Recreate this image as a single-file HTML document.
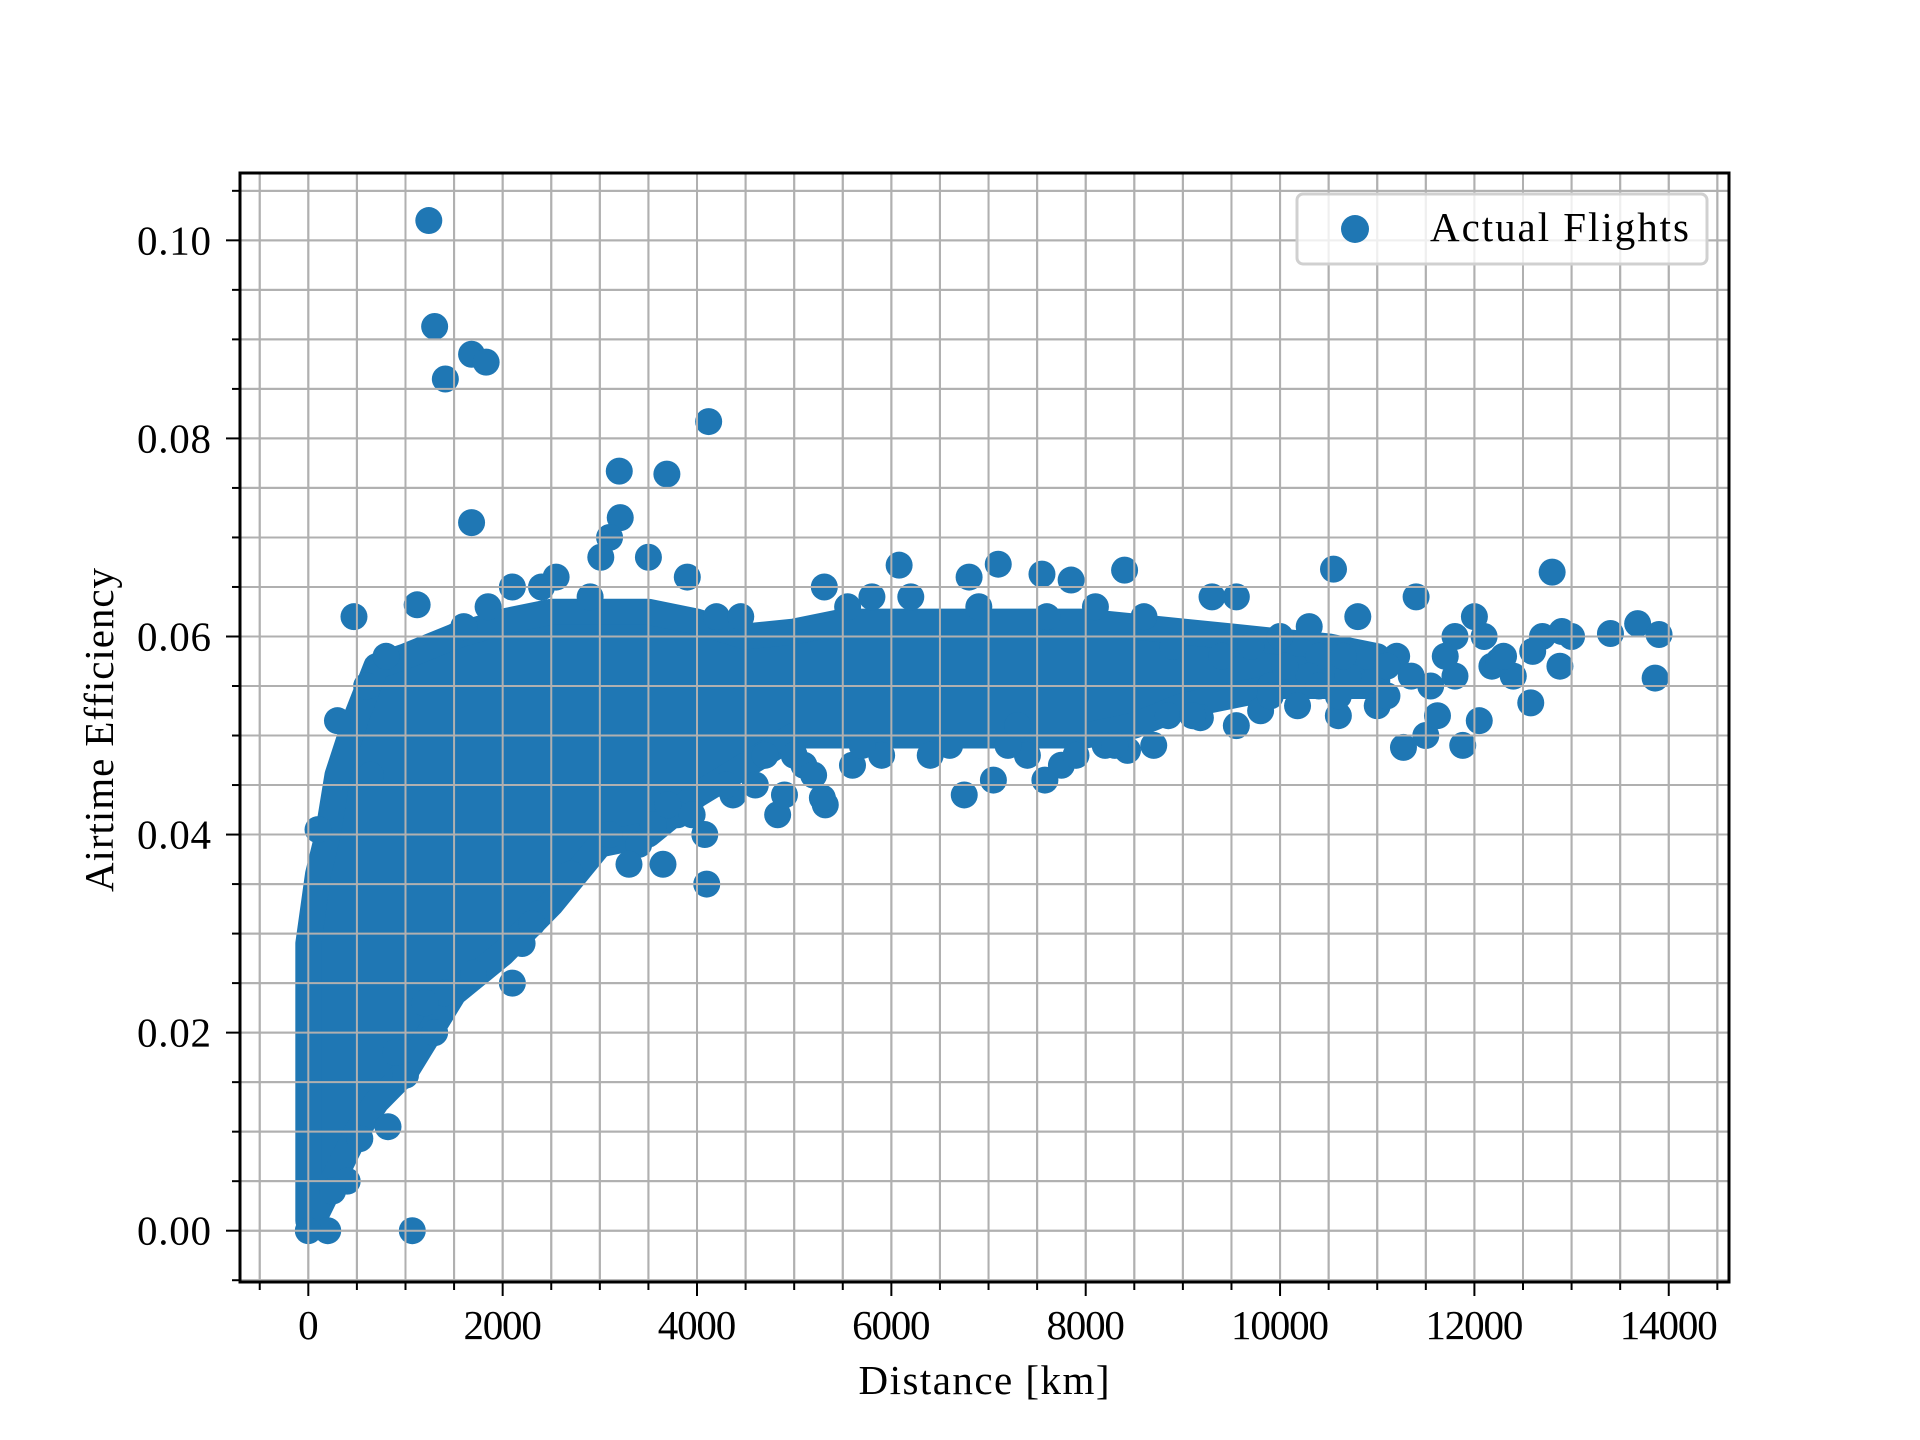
<!DOCTYPE html>
<html><head><meta charset="utf-8"><style>
html,body{margin:0;padding:0;background:#fff;}
svg{display:block;}
text{font-family:"Liberation Serif","DejaVu Serif",serif;fill:#000;}
</style></head><body>
<svg id="chart" width="1920" height="1440" viewBox="0 0 1920 1440" xmlns="http://www.w3.org/2000/svg">
<rect width="1920" height="1440" fill="#fff"/>
<g id="grid"></g>
<g id="marks"></g>
<g id="axes"></g>
</svg>
<script>
const xTicks=[0,2000,4000,6000,8000,10000,12000,14000];
const xTickLabels=["0","2000","4000","6000","8000","10000","12000","14000"];
const yTicks=[0,0.02,0.04,0.06,0.08,0.10];
const yTickLabels=["0.00","0.02","0.04","0.06","0.08","0.10"];
// dense cloud envelope (distance, low efficiency, high efficiency)
const bandX=[0,100,200,300,500,700,1000,1500,2000,2500,3000,3500,4000,4500,5000,5500,6000,6500,7000,7500,8000,8500,9000,9500,10000,10500,11000];
const bandLow=[0.001,0.002,0.004,0.006,0.010,0.013,0.016,0.024,0.028,0.033,0.039,0.040,0.044,0.047,0.050,0.050,0.050,0.050,0.050,0.050,0.050,0.051,0.053,0.054,0.055,0.055,0.055];
const bandHigh=[0.029,0.036,0.040,0.046,0.052,0.057,0.058,0.060,0.0615,0.0625,0.0625,0.0625,0.0615,0.060,0.0605,0.0615,0.0615,0.0615,0.0615,0.0615,0.0615,0.061,0.0605,0.060,0.0595,0.059,0.058];
// individual flights
const ptX=[1240,1300,1410,1680,1830,4120,3200,3690,1680,3210,3100,3500,3010,470,1120,300,100,1070,200,0,2100,820,530,1000,3650,4080,4100,4830,5320,5290,5100,4370,5600,6750,7050,7580,7750,7400,8430,8700,8850,6080,6800,7100,7550,7850,8400,5310,9550,9300,10550,10800,11400,12800,12700,12900,12880,12580,12400,12180,12050,11880,11500,11270,11620,11050,10600,10180,9800,9550,9180,13400,13680,13900,13860,12000,12100,11800,10300,10000,9700,10400,11200,11550,11800,12250,12600,13000,10300,10700,10400,11000,9900,2900,2550,2400,2100,1850,1600,3900,4200,4450,5550,5800,6200,3800,3400,3100,2700,2370,2200,1700,1400,1200,400,250,640,10900,11100,11350,11700,12300,10650,10050,9400,8900,8200,7900,7200,6600,5900,5700,6900,7600,8100,8600,4600,4900,5200,3550,3950,600,800,900,1300,2300,2700,3300,3700,4300,4700,5000,6400,7300,8300,9100,9900,10600,11100];
const ptY=[0.102,0.0913,0.086,0.0885,0.0877,0.0817,0.0767,0.0764,0.0715,0.072,0.070,0.068,0.068,0.062,0.0632,0.0515,0.0405,0.000,0.000,0.000,0.025,0.0105,0.0093,0.0157,0.037,0.040,0.035,0.042,0.043,0.0437,0.047,0.044,0.047,0.044,0.0455,0.0455,0.047,0.048,0.0485,0.049,0.052,0.0672,0.066,0.0673,0.0663,0.0657,0.0667,0.065,0.064,0.064,0.0668,0.062,0.064,0.0665,0.060,0.0605,0.057,0.0533,0.056,0.057,0.0515,0.049,0.050,0.0488,0.052,0.054,0.052,0.053,0.0525,0.051,0.0518,0.0603,0.0613,0.0602,0.0558,0.062,0.060,0.060,0.061,0.060,0.059,0.058,0.058,0.055,0.056,0.0575,0.0585,0.060,0.056,0.056,0.055,0.053,0.055,0.064,0.066,0.065,0.065,0.063,0.061,0.066,0.062,0.062,0.063,0.064,0.064,0.042,0.039,0.040,0.036,0.032,0.029,0.026,0.024,0.023,0.005,0.004,0.046,0.058,0.057,0.056,0.058,0.058,0.058,0.057,0.058,0.059,0.049,0.048,0.049,0.049,0.048,0.049,0.063,0.062,0.063,0.062,0.045,0.044,0.046,0.041,0.042,0.055,0.058,0.018,0.020,0.031,0.036,0.037,0.043,0.045,0.048,0.048,0.048,0.051,0.049,0.052,0.054,0.054,0.054];

const NS="http://www.w3.org/2000/svg";
const L=240,R=1729,T=173,B=1282;
const xMin=-703,xMax=14620,yMin=-0.00518,yMax=0.1068;
function sx(v){return L+(v-xMin)/(xMax-xMin)*(R-L);}
function sy(v){return B-(v-yMin)/(yMax-yMin)*(B-T);}
function el(tag,attrs,parent){const e=document.createElementNS(NS,tag);for(const k in attrs)e.setAttribute(k,attrs[k]);parent.appendChild(e);return e;}
const grid=document.getElementById('grid'),marks=document.getElementById('marks'),axes=document.getElementById('axes');
const C="#1f77b4";
for(let v=-500;v<=14500;v+=500){
  const g=el('line',{x1:sx(v),x2:sx(v),y1:T,y2:B,stroke:'#b0b0b0','stroke-width':2},grid);
  
  
}
for(let i=-1;i<=21;i++){
  const v=i*0.005;
  const g=el('line',{x1:L,x2:R,y1:sy(v),y2:sy(v),stroke:'#b0b0b0','stroke-width':2},grid);
  
  
}
let d='M'+sx(bandX[0])+' '+sy(bandLow[0]);
for(let i=1;i<bandX.length;i++)d+=' L'+sx(bandX[i])+' '+sy(bandLow[i]);
for(let i=bandX.length-1;i>=0;i--)d+=' L'+sx(bandX[i])+' '+sy(bandHigh[i]);
d+='Z';
const band=el('path',{d:d,fill:C,stroke:C,'stroke-width':26,'stroke-linejoin':'round'},marks);


for(let i=0;i<ptX.length;i++){
  const c=el('circle',{cx:sx(ptX[i]),cy:sy(ptY[i]),r:13.5,fill:C},marks);
  
  
}
const gridTop=grid.cloneNode(true);
document.getElementById('chart').insertBefore(gridTop,axes);
const sp=el('rect',{x:L,y:T,width:R-L,height:B-T,fill:'none',stroke:'#000','stroke-width':3},axes);


for(let v=-500;v<=14500;v+=500){
  const major=v%2000===0;
  const t=el('line',{x1:sx(v),x2:sx(v),y1:B,y2:B+(major?14:8),stroke:'#000','stroke-width':2},axes);
  
  
}
xTicks.forEach((v,i)=>{
  const t=el('text',{x:sx(v),y:1339,'font-size':41,'text-anchor':'middle'},axes);
  t.textContent=xTickLabels[i];
  t.setAttribute('textLength',xTickLabels[i].length*19.6);
  
  
});
for(let i=-1;i<=21;i++){
  const v=i*0.005;const major=i%4===0;
  const t=el('line',{x1:L,x2:L-(major?14:8),y1:sy(v),y2:sy(v),stroke:'#000','stroke-width':2},axes);
  
  
}
yTicks.forEach((v,i)=>{
  const t=el('text',{x:211,y:sy(v)+14,'font-size':41,'text-anchor':'end',textLength:74},axes);
  t.textContent=yTickLabels[i];
  
  
});
const xt=el('text',{x:984,y:1394,'font-size':41,'text-anchor':'middle',textLength:251},axes);
xt.textContent='Distance [km]';


const yt=el('text',{x:0,y:0,'font-size':41,'text-anchor':'middle',textLength:324,transform:'translate(113,730) rotate(-90)'},axes);
yt.textContent='Airtime Efficiency';


const lg=el('g',{},axes);


const lb=el('rect',{x:1297,y:194,width:410,height:70,rx:6,fill:'#fff','fill-opacity':0.8,stroke:'#d0d0d0','stroke-width':3},lg);


const lm=el('circle',{cx:1355,cy:229,r:14,fill:C},lg);


const lt=el('text',{x:1430,y:241,'font-size':41,textLength:259},lg);
lt.textContent='Actual Flights';


</script>
</body></html>
